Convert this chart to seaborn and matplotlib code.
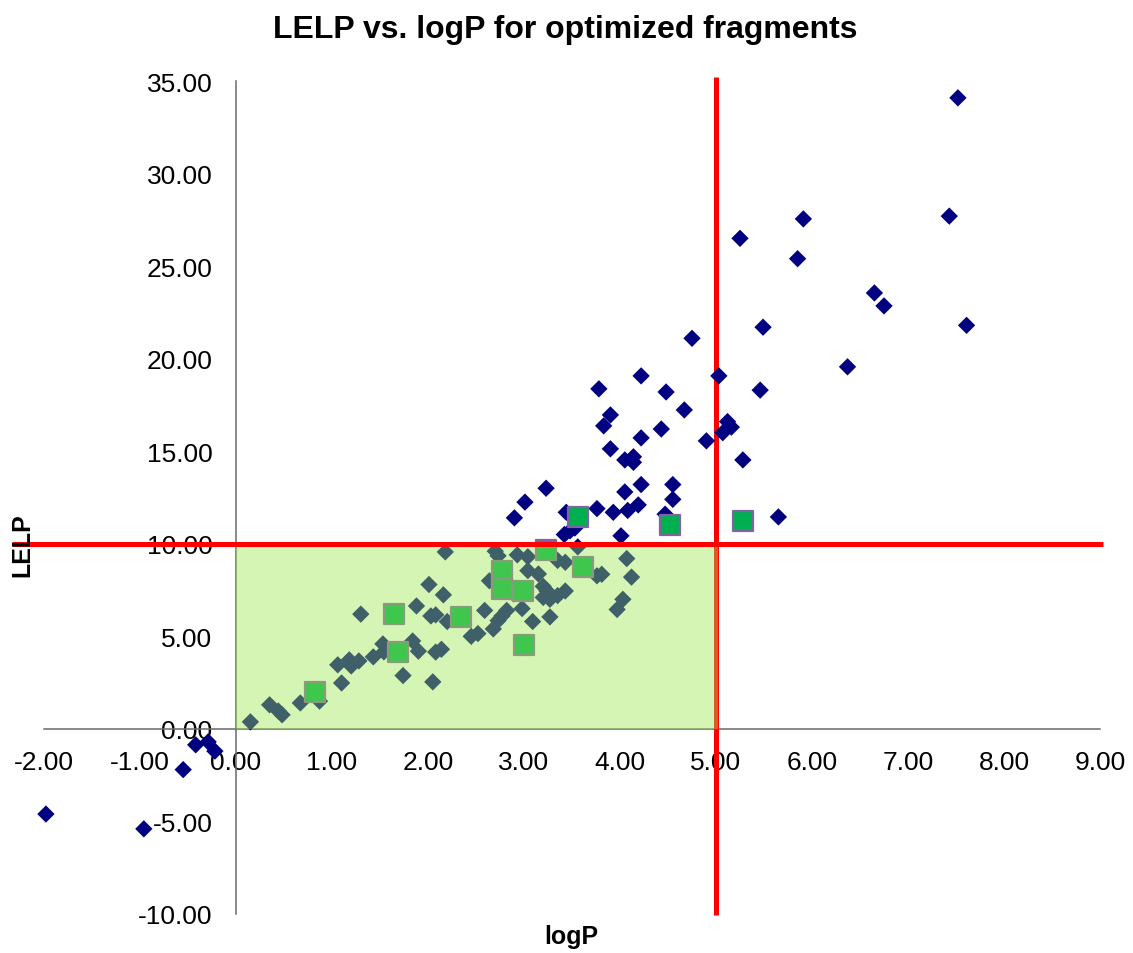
import matplotlib
matplotlib.use("Agg")
import matplotlib.pyplot as plt
import seaborn as sns
import pandas as pd
from matplotlib.patches import Rectangle
from matplotlib.ticker import FuncFormatter

# ---- data ----
frag_logp = [-1.98, -0.96, -0.55, -0.42, -0.29, -0.22,
             0.15, 0.35, 0.44, 0.48, 0.67, 0.87, 1.10, 1.06, 1.18, 1.20, 1.28, 1.43, 1.30,
             1.53, 1.54, 1.74, 1.84, 1.90, 1.88, 2.01, 2.16, 2.03, 2.08, 2.20, 2.08, 2.14,
             2.05, 2.18, 2.45, 2.52, 2.59, 2.70, 2.73, 2.64, 2.68, 2.73, 2.77, 2.82, 2.93,
             3.04, 3.04, 2.85, 2.89, 2.98, 3.09, 3.15, 3.20, 3.24, 3.20, 3.27, 3.35, 3.43,
             3.35, 3.27, 3.56, 3.43, 3.76, 3.81, 4.07, 4.12, 4.03, 3.97,
             3.42, 3.48, 3.53, 2.90, 3.01, 3.23, 3.44, 3.76, 3.93, 4.08, 4.19, 4.47, 4.01,
             4.05, 4.22, 4.55, 4.55, 3.90, 4.05, 4.14, 4.14, 4.22, 4.43, 3.83, 3.90, 4.67,
             4.48, 3.78, 4.22, 4.75, 4.90, 5.03, 5.07, 5.12, 5.16, 5.28, 5.46, 5.49, 5.65,
             5.25, 5.85, 5.91, 6.37, 6.65, 6.75, 7.43, 7.52, 7.61]
frag_lelp = [-4.60, -5.40, -2.20, -0.86, -0.70, -1.20,
             0.38, 1.30, 0.97, 0.76, 1.40, 1.50, 2.48, 3.46, 3.73, 3.40, 3.67, 3.89, 6.20,
             4.59, 4.16, 2.88, 4.75, 4.20, 6.64, 7.80, 7.24, 6.10, 6.16, 5.80, 4.15, 4.30,
             2.54, 9.56, 5.00, 5.15, 6.40, 9.60, 9.35, 8.00, 5.40, 5.85, 6.10, 6.40, 9.40,
             9.30, 8.55, 7.80, 7.30, 6.50, 5.80, 8.37, 7.70, 7.45, 7.10, 7.00, 7.20, 7.45,
             9.10, 6.05, 9.83, 9.00, 8.27, 8.35, 9.20, 8.20, 7.00, 6.45,
             10.50, 10.70, 10.85, 11.40, 12.25, 13.00, 11.70, 11.90, 11.70, 11.80, 12.10, 11.60, 10.43,
             12.80, 13.20, 13.20, 12.40, 15.13, 14.53, 14.70, 14.40, 15.72, 16.20, 16.37, 16.96, 17.23,
             18.20, 18.37, 19.07, 21.10, 15.56, 19.07, 16.00, 16.60, 16.30, 14.53, 18.30, 21.70, 11.45,
             26.50, 25.40, 27.55, 19.56, 23.55, 22.85, 27.70, 34.09, 21.80]

opt_logp = [0.82, 1.65, 1.69, 2.34, 2.77, 2.77, 2.99, 3.00, 3.23, 3.61, 3.56, 4.52, 5.28]
opt_lelp = [2.00, 6.20, 4.16, 6.05, 8.55, 7.55, 7.45, 4.55, 9.67, 8.75, 11.45, 11.00, 11.24]

x_ticks = list(range(-2, 10))
y_ticks = list(range(-10, 40, 5))
logp_cut = 5
lelp_cut = 10

title = "LELP vs. logP for optimized fragments"
xlabel = "logP"
ylabel = "LELP"

# ---- plot ----
sns.set_style("white")
plt.rcParams["font.family"] = ["Liberation Sans", "DejaVu Sans"]
plt.rcParams["text.color"] = "black"

fig = plt.figure(figsize=(11.33, 9.54), dpi=100)
ax = fig.add_axes([44 / 1133, 1 - 915 / 954, 1056 / 1133, 833 / 954])

frag = pd.DataFrame({"logP": frag_logp, "LELP": frag_lelp})
opt = pd.DataFrame({"logP": opt_logp, "LELP": opt_lelp})

sns.scatterplot(data=frag, x="logP", y="LELP", marker="D", color="#000080",
                s=78, edgecolor="none", ax=ax, zorder=3, legend=False, clip_on=False)
sns.scatterplot(data=opt, x="logP", y="LELP", marker="s", color="#00B050",
                s=195, edgecolor="#8064A2", linewidth=1.6, ax=ax, zorder=4,
                legend=False, clip_on=False)

ax.set_xlim(x_ticks[0], x_ticks[-1])
ax.set_ylim(y_ticks[0], y_ticks[-1])

# red threshold lines
ax.plot([logp_cut, logp_cut], [-10.05, 35.2], color="#FF0000", lw=3.6,
        clip_on=False, zorder=2, solid_capstyle="butt")
ax.plot([-2.33, 9.03], [lelp_cut, lelp_cut], color="#FF0000", lw=3.6,
        clip_on=False, zorder=6, solid_capstyle="butt")

# translucent green box over the favourable region
ax.add_patch(Rectangle((0, 0), logp_cut + 0.02, lelp_cut, facecolor="#9AE949",
                       alpha=0.41, edgecolor="none", zorder=5))

# axes crossing at zero
for side in ["top", "right"]:
    ax.spines[side].set_visible(False)
ax.spines["left"].set_position(("data", 0))
ax.spines["bottom"].set_position(("data", 0))
for side in ["left", "bottom"]:
    ax.spines[side].set_color("#6a6a6a")
    ax.spines[side].set_linewidth(1.1)
    ax.spines[side].set_zorder(1)

ax.set_xticks(x_ticks)
ax.set_yticks(y_ticks)
fmt = FuncFormatter(lambda v, p: f"{v:.2f}")
ax.xaxis.set_major_formatter(fmt)
ax.yaxis.set_major_formatter(fmt)
ax.tick_params(axis="x", length=0, pad=15, labelsize=19, labelcolor="black")
ax.tick_params(axis="y", length=0, pad=17, labelsize=19, labelcolor="black")
ax.set_xlabel("")
ax.set_ylabel("")
ax.grid(False)

fig.text(565 / 1133, 1 - 30 / 954, title, ha="center", va="center",
         fontsize=23, fontweight="bold", color="black")
fig.text(571 / 1133, 1 - 937 / 954, xlabel, ha="center", va="center",
         fontsize=18, fontweight="bold", color="black")
fig.text(22 / 1133, 1 - 545 / 954, ylabel, ha="center", va="center",
         fontsize=18, fontweight="bold", rotation=90, color="black")

fig.savefig("out.png", dpi=100, facecolor="white")
